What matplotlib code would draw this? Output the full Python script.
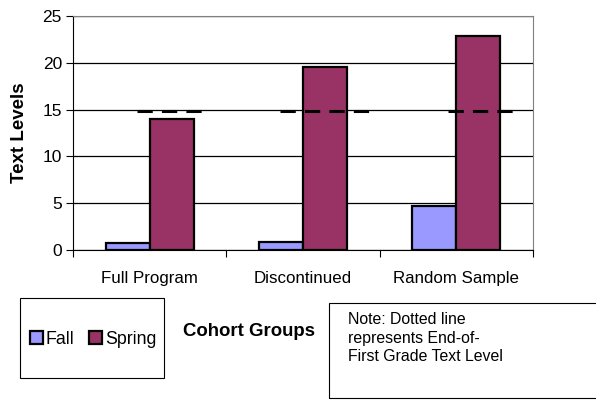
import numpy as np
import matplotlib
matplotlib.use("Agg")
import matplotlib.pyplot as plt
from matplotlib.patches import Rectangle

plt.rcParams['font.family'] = ['Liberation Sans', 'DejaVu Sans']

# Data
groups = ["Full Program", "Discontinued", "Random Sample"]
fall = [0.7, 0.9, 4.7]
spring = [14.0, 19.5, 22.9]
end_of_first_grade = [14.8, 14.8, 14.8]

fall_color = "#9999ff"
spring_color = "#993366"

fig = plt.figure(figsize=(5.96, 4.0), dpi=100)
ax = fig.add_axes([73 / 596, 1 - 250 / 400, 460 / 596, 234 / 400])

x = np.arange(len(groups))
w = 0.287
ax.bar(x - w / 2, fall, w, color=fall_color, edgecolor="black", linewidth=1.6, label="Fall", zorder=3)
ax.bar(x + w / 2, spring, w, color=spring_color, edgecolor="black", linewidth=1.6, label="Spring", zorder=3)

# dashed benchmark lines
spans = [(-0.083, 0.341), (-0.15, 0.47), (-0.054, 0.37)]
for xi, lvl, (a, b) in zip(x, end_of_first_grade, spans):
    ax.plot([xi + a, xi + b], [lvl, lvl], color="black", linewidth=2.2,
            linestyle=(0, (5, 3)), zorder=4)

ax.set_xlim(-0.5, len(groups) - 0.5)
ax.set_ylim(0, 25)
ax.set_yticks(np.arange(0, 26, 5))
ax.yaxis.grid(True, color="black", linewidth=0.9, zorder=0)
ax.set_axisbelow(True)

ax.set_xticks(np.arange(-0.5, len(groups), 1.0))
ax.set_xticklabels([])
ax.set_xticks(x, minor=True)
ax.set_xticklabels(groups, minor=True, fontsize=12.2)
ax.tick_params(axis="x", which="minor", length=0, pad=15)
ax.tick_params(axis="x", which="major", length=5, direction="out", color="black")
ax.tick_params(axis="y", length=5, direction="out", labelsize=12.5, pad=3)

for s in ["top", "right"]:
    ax.spines[s].set_color("#808080")
ax.spines["left"].set_color("black")
ax.spines["bottom"].set_color("black")

ax.set_ylabel("Text Levels", fontsize=13.5, fontweight="bold", labelpad=10)

# legend box
fig.patches.append(Rectangle((20 / 596, 1 - 378 / 400), 144 / 596, 80 / 400,
                             transform=fig.transFigure, fill=False,
                             edgecolor="black", linewidth=0.8))
leg = fig.legend(loc="center", bbox_to_anchor=(93 / 596, 1 - 339 / 400), ncol=2,
                 fontsize=12.8, frameon=False,
                 handlelength=0.75, handleheight=0.75, handletextpad=0.15,
                 columnspacing=0.8, borderaxespad=0)

fig.text(249 / 596, 1 - 332 / 400, "Cohort Groups", fontsize=13.4, fontweight="bold",
         ha="center", va="center")

# note box
fig.patches.append(Rectangle((329 / 596, 1 - 398 / 400), 300 / 596, 95 / 400,
                             transform=fig.transFigure, fill=False,
                             edgecolor="black", linewidth=0.8))
fig.text(348 / 596, 1 - 312 / 400,
         "Note: Dotted line\nrepresents End-of-\nFirst Grade Text Level",
         fontsize=11.4, ha="left", va="top", linespacing=1.3)

fig.savefig("out.png", dpi=100)
